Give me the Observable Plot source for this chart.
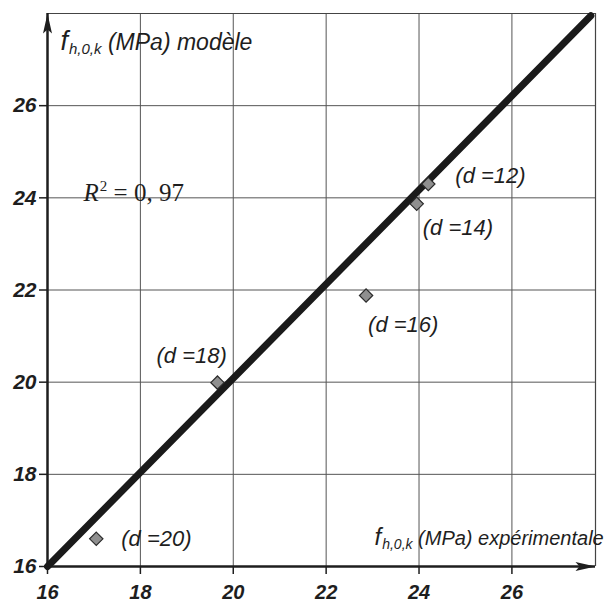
<!DOCTYPE html>
<html>
<head>
<meta charset="utf-8">
<script src="https://cdn.jsdelivr.net/npm/d3@7"></script>
<script src="https://cdn.jsdelivr.net/npm/@observablehq/plot@0.6"></script>
<style>
  html, body { margin: 0; padding: 0; background: #fff; }
</style>
</head>
<body>
<div id="chart"></div>
<script>
// ---- data ----
const diameters    = [12, 14, 16, 18, 20];
const experimental = [24.2, 23.95, 22.86, 19.66, 17.05];
const model        = [24.3, 23.87, 21.88, 19.99, 16.6];
const xTicks = [16, 18, 20, 22, 24, 26];
const yTicks = [16, 18, 20, 22, 24, 26];
const gridXValues = [18, 20, 22, 24, 26];
const gridYValues = [18, 20, 22, 24, 26];
const xDomain = [16, 27.8];
const yDomain = [16, 28];
const fitX = [16, 27.7];
const fitY = [16, 27.95];
const r2Text = "R2 = 0, 97";
const yTitle = "f|h,0,k| (MPa) modèle";
const xTitle = "f|h,0,k| (MPa) expérimentale";

// ---- layout / style (not data) ----
const labelOffsets = [[27, -8], [6, 24], [2, 29], [-61, -27], [25, 0]];
const sans = "'Liberation Sans', Arial, Helvetica, sans-serif";
const serif = "'Liberation Serif', 'Times New Roman', serif";
const ink = "#1e1e1e";

const points = diameters.map((d, i) => ({d, x: experimental[i], y: model[i], label: `(d =${d})`}));
const fit = fitX.map((x, i) => ({x, y: fitY[i]}));

const arrowHead = {
  draw(ctx) {
    ctx.moveTo(0, 0);
    ctx.lineTo(4.5, 20);
    ctx.lineTo(0, 16);
    ctx.lineTo(-4.5, 20);
    ctx.closePath();
  }
};

const chart = Plot.plot({
  width: 607,
  height: 605,
  marginLeft: 47,
  marginRight: 12,
  marginTop: 13,
  marginBottom: 39,
  x: {domain: xDomain},
  y: {domain: yDomain},
  style: {background: "#fff", fontFamily: sans, color: ink},
  marks: [
    Plot.ruleX(gridXValues, {stroke: "#555", strokeWidth: 1}),
    Plot.ruleY(gridYValues, {stroke: "#555", strokeWidth: 1}),
    Plot.ruleY([yDomain[1]], {x1: xDomain[0], x2: xDomain[1], stroke: "#444", strokeWidth: 1.2}),
    Plot.ruleX([xDomain[1]], {y1: yDomain[0], y2: yDomain[1], stroke: "#444", strokeWidth: 1.2}),
    Plot.ruleX([xDomain[0]], {y1: yDomain[0], y2: yDomain[1], stroke: ink, strokeWidth: 2.5}),
    Plot.ruleY([yDomain[0]], {x1: xDomain[0], x2: xDomain[1], stroke: ink, strokeWidth: 2.5}),
    Plot.axisX({ticks: xTicks, tickSize: 8, tickPadding: 10, fontSize: 20, fontWeight: "bold",
                fontStyle: "italic", label: null, strokeWidth: 1.5}),
    Plot.axisY({ticks: yTicks, tickSize: 8, tickPadding: 3, fontSize: 21, fontWeight: "bold",
                fontStyle: "italic", label: null, strokeWidth: 1.5}),
    Plot.dot([{x: xDomain[0], y: yDomain[1]}], {x: "x", y: "y", symbol: arrowHead, r: 5, fill: ink, stroke: "none"}),
    Plot.dot([{x: xDomain[1], y: yDomain[0]}], {x: "x", y: "y", symbol: arrowHead, r: 5, fill: ink, stroke: "none", rotate: 90}),
    Plot.line(fit, {x: "x", y: "y", stroke: "#1a1a1a", strokeWidth: 7}),
    Plot.dot(points, {x: "x", y: "y", symbol: "diamond2", r: 6, fill: "#8f8f8f", stroke: "#2a2a2a", strokeWidth: 1.2}),
    ...points.map((p, i) => Plot.text([p], {
      x: "x", y: "y", text: "label", dx: labelOffsets[i][0], dy: labelOffsets[i][1],
      textAnchor: "start", fontSize: 22, fontStyle: "italic", fill: ink
    })),
    Plot.text([r2Text], {frameAnchor: "top-left", dx: 36, dy: 187, lineAnchor: "bottom",
      textAnchor: "start", fontFamily: serif, fontSize: 25, fill: ink}),
    Plot.text([yTitle], {frameAnchor: "top-left", dx: 13, dy: 36, lineAnchor: "bottom",
      textAnchor: "start", fontSize: 23, fontStyle: "italic", fill: ink}),
    Plot.text([xTitle], {frameAnchor: "bottom-left", dx: 327, dy: -22, lineAnchor: "bottom",
      textAnchor: "start", fontSize: 20, fontStyle: "italic", fill: ink})
  ]
});

document.getElementById("chart").appendChild(chart);

// rich text: subscripts / superscripts as tspans
d3.select(chart).selectAll("text").each(function() {
  const t = this.textContent;
  const el = d3.select(this);
  if (t === yTitle || t === xTitle) {
    const big = t === yTitle;
    const [a, b, c] = t.split("|");
    el.text(null);
    el.append("tspan").attr("font-size", big ? 27 : 24).text(a);
    el.append("tspan").attr("font-size", big ? 15 : 14).attr("dy", 4).attr("dx", 1).text(b);
    el.append("tspan").attr("dy", -4).text(c);
  } else if (t === r2Text) {
    el.text(null);
    el.append("tspan").attr("font-style", "italic").text("R");
    el.append("tspan").attr("font-size", 15).attr("dy", -10).attr("dx", 1).text("2");
    el.append("tspan").attr("dy", 10).text(t.slice(2));
  }
});
</script>
</body>
</html>
